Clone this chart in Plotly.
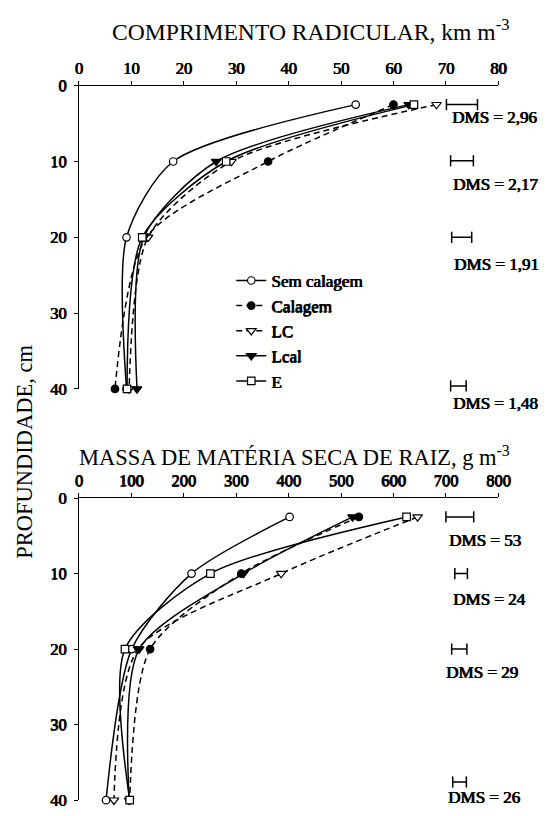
import plotly.graph_objects as go

# ---------------- data ----------------
depth = [2.5, 10, 20, 40]
series = ["Sem calagem", "Calagem", "LC", "Lcal", "E"]

# Comprimento radicular, km m-3
comp_sem = [52.8, 18.0, 9.1, 9.1]
comp_cal = [60.0, 36.1, 12.9, 6.9]
comp_lc = [68.2, 29.1, 13.2, 9.6]
comp_lcal = [62.9, 26.2, 12.4, 11.1]
comp_e = [63.9, 28.1, 12.1, 9.2]

# Massa de materia seca de raiz, g m-3
massa_sem = [402, 215, 101, 52]
massa_cal = [534, 310, 136, 97]
massa_lc = [646, 386, 113, 67]
massa_lcal = [522, 314, 115, 96]
massa_e = [625, 251, 88, 97]

# DMS (least significant difference) per depth
dms_comp = [2.96, 2.17, 1.91, 1.48]
dms_comp_labels = ["DMS = 2,96", "DMS = 2,17", "DMS = 1,91", "DMS = 1,48"]
dms_comp_bar_start = [70.1, 70.9, 71.1, 70.9]
dms_comp_bar_depth = [2.5, 9.9, 20.0, 39.6]
dms_comp_text_x = [70.8, 70.9, 71.1, 70.9]
dms_comp_text_depth = [4.2, 13.0, 23.65, 41.9]

dms_massa = [53, 24, 29, 26]
dms_massa_labels = ["DMS = 53", "DMS = 24", "DMS = 29", "DMS = 26"]
dms_massa_bar_start = [700, 717, 711, 713]
dms_massa_bar_depth = [2.5, 10.0, 20.0, 37.6]
dms_massa_text_x = [703, 709, 697, 700]
dms_massa_text_depth = [5.6, 13.5, 23.1, 39.65]

x_ticks_comp = [0, 10, 20, 30, 40, 50, 60, 70, 80]
x_ticks_massa = [0, 100, 200, 300, 400, 500, 600, 700, 800]
y_ticks = [0, 10, 20, 30, 40]
DEPTH_MAX = 40

# ---------------- styles ----------------
SERIF = "Liberation Serif"
BOLD = "0.8px 0px 0px black, 0px 0.3px 0px black"   # faux bold (no bold serif face installed)
styles = {
    "Sem calagem": dict(dash="solid", symbol="circle", fill="white", size=7.5),
    "Calagem": dict(dash="6px,4px", symbol="circle", fill="black", size=7.5),
    "LC": dict(dash="6px,4px", symbol="triangle-down", fill="white", size=8.5),
    "Lcal": dict(dash="solid", symbol="triangle-down", fill="black", size=8.5),
    "E": dict(dash="solid", symbol="square", fill="white", size=7.5),
}

comp_values = [comp_sem, comp_cal, comp_lc, comp_lcal, comp_e]
massa_values = [massa_sem, massa_cal, massa_lc, massa_lcal, massa_e]

fig = go.Figure()

def add_series(values, xaxis, yaxis, showlegend):
    for name, vals in zip(series, values):
        st = styles[name]
        fig.add_trace(go.Scatter(
            x=vals, y=depth, name=name, mode="lines+markers",
            xaxis=xaxis, yaxis=yaxis, showlegend=showlegend,
            line=dict(color="black", width=1.5, dash=st["dash"], shape="spline", smoothing=0.75),
            marker=dict(symbol=st["symbol"], size=st["size"], color=st["fill"],
                        line=dict(color="black", width=1.2)),
            cliponaxis=False,
        ))

add_series(comp_values, "x", "y", True)
add_series(massa_values, "x2", "y2", False)

def add_dms(starts, widths, depths, xaxis, yaxis):
    for s, w, d in zip(starts, widths, depths):
        fig.add_trace(go.Scatter(
            x=[s, s + w], y=[d, d], mode="lines+markers", xaxis=xaxis, yaxis=yaxis,
            showlegend=False, cliponaxis=False,
            line=dict(color="black", width=1.5),
            marker=dict(symbol="line-ns-open", size=8, color="black",
                        line=dict(color="black", width=1.5)),
        ))

add_dms(dms_comp_bar_start, [2 * v for v in dms_comp], dms_comp_bar_depth, "x", "y")
add_dms(dms_massa_bar_start, dms_massa, dms_massa_bar_depth, "x2", "y2")

bold_font = dict(family=SERIF, size=17, color="black", shadow=BOLD)
annotations = []
# y given in axis-domain units so that labels below the depth axis end are still drawn
for lab, xx, dd in zip(dms_comp_labels, dms_comp_text_x, dms_comp_text_depth):
    annotations.append(dict(text=lab, x=xx, y=1 - dd / DEPTH_MAX, xref="x", yref="y domain",
                            xanchor="left", yanchor="middle", showarrow=False, font=bold_font))
for lab, xx, dd in zip(dms_massa_labels, dms_massa_text_x, dms_massa_text_depth):
    annotations.append(dict(text=lab, x=xx, y=1 - dd / DEPTH_MAX, xref="x2", yref="y2 domain",
                            xanchor="left", yanchor="middle", showarrow=False, font=bold_font))

annotations.append(dict(text="COMPRIMENTO RADICULAR, km m<sup>-3</sup>", x=316 / 556, y=1 - 21.5 / 816,
                        xref="paper", yref="paper", showarrow=False, xanchor="center", yanchor="middle",
                        font=dict(family=SERIF, size=23.6, color="black")))
annotations.append(dict(text="MASSA DE MATÉRIA SECA DE RAIZ, g m<sup>-3</sup>", x=299 / 556, y=1 - 458 / 816,
                        xref="paper", yref="paper", showarrow=False, xanchor="center", yanchor="middle",
                        font=dict(family=SERIF, size=22.5, color="black")))
annotations.append(dict(text="PROFUNDIDADE, cm", x=21 / 556, y=1 - 453 / 816, textangle=-90,
                        xref="paper", yref="paper", showarrow=False, xanchor="center", yanchor="middle",
                        font=dict(family=SERIF, size=22.5, color="black")))

xdom = [77 / 556, 509 / 556]
tickfont = dict(family=SERIF, size=16.5, color="black", shadow=BOLD)
axis_common = dict(showline=True, linecolor="black", linewidth=1.2, ticks="outside", ticklen=4,
                   tickwidth=1.2, tickcolor="black", showgrid=False, zeroline=False, tickfont=tickfont)

fig.update_layout(
    autosize=True,
    margin=dict(l=0, r=0, t=0, b=0),
    paper_bgcolor="white", plot_bgcolor="white",
    xaxis=dict(domain=xdom, range=[0, 80], side="top", anchor="y", tickvals=x_ticks_comp, **axis_common),
    yaxis=dict(domain=[1 - 389 / 816, 1 - 78.5 / 816], range=[DEPTH_MAX, 0], anchor="x", tickvals=y_ticks,
               ticklabelstandoff=4, **axis_common),
    xaxis2=dict(domain=xdom, range=[0, 800], side="top", anchor="y2", tickvals=x_ticks_massa, **axis_common),
    yaxis2=dict(domain=[1 - 810 / 816, 1 - 500.7 / 816], range=[DEPTH_MAX, 0], anchor="x2", tickvals=y_ticks,
                ticklabelstandoff=4, **axis_common),
    legend=dict(x=234 / 556, y=1 - 260 / 816, xanchor="left", yanchor="top", bgcolor="rgba(0,0,0,0)",
                font=dict(family=SERIF, size=17, color="black", shadow=BOLD),
                tracegroupgap=0, itemwidth=30),
    annotations=annotations,
    showlegend=True,
)

fig.write_html(
    "out.html",
    default_width="100vw",
    default_height="100vh",
    config={"displayModeBar": False},
    post_script=(
        "document.documentElement.style.margin='0';"
        "document.documentElement.style.overflow='hidden';"
        "document.body.style.margin='0';"
        "document.body.style.overflow='hidden';"
    ),
)
